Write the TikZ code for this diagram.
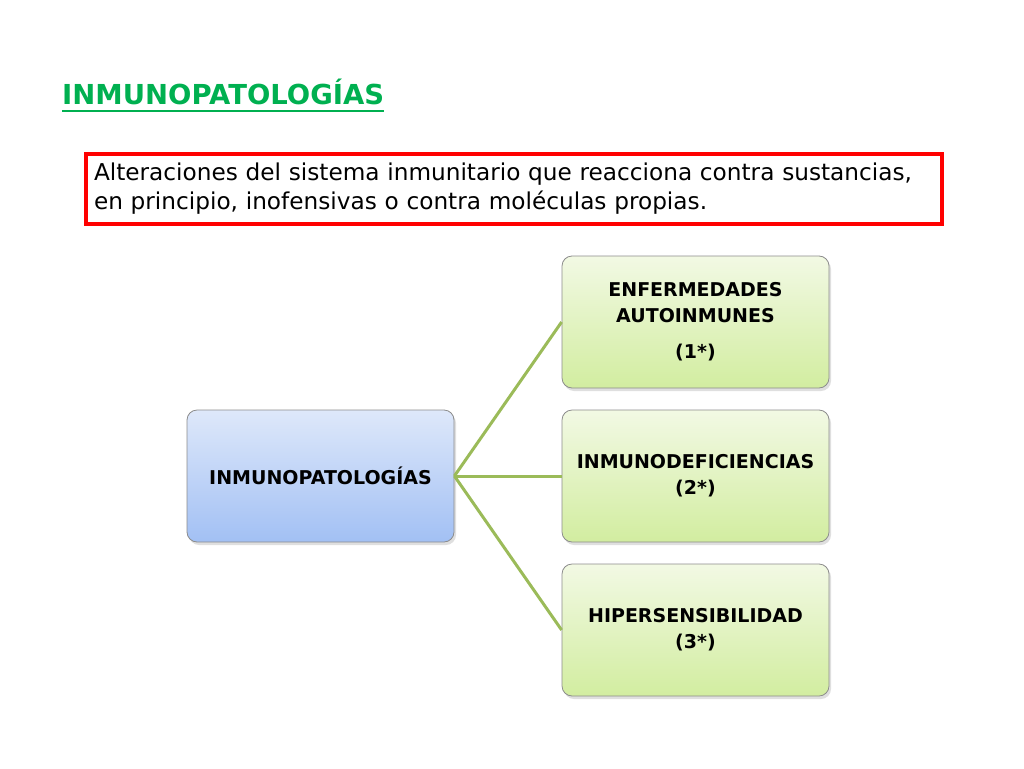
\documentclass[tikz,border=0pt]{standalone}
\usepackage{fontspec}
\setmainfont{DejaVu Sans}
\usepackage{tikz}
\usetikzlibrary{shadows}

\definecolor{titlegreen}{RGB}{0,176,80}
\definecolor{branchgreen}{RGB}{155,187,89}
\definecolor{bluetop}{RGB}{222,232,250}
\definecolor{bluebottom}{RGB}{162,192,244}
\definecolor{greentop}{RGB}{242,249,228}
\definecolor{greenbottom}{RGB}{210,237,160}

\tikzset{
  box/.style = {rounded corners = 10pt, draw = black!45, line width = 0.8pt,
                minimum width = 267pt, minimum height = 132pt,
                text width = 255pt, align = center,
                font = \fontsize{19}{26}\selectfont\bfseries,
                drop shadow = {shadow xshift = 2pt, shadow yshift = -3pt, opacity = 0.25}},
  rootbox/.style = {box, top color = bluetop, bottom color = bluebottom},
  leafbox/.style = {box, top color = greentop, bottom color = greenbottom},
}

\begin{document}
\begin{tikzpicture}[x = 1pt, y = -1pt]
  \useasboundingbox (0,0) rectangle (1024,768);

  % title
  \node [anchor = base west, inner sep = 0pt, text = titlegreen,
         font = \fontsize{27.5}{30}\selectfont\bfseries] (title) at (62,104) {INMUNOPATOLOGÍAS};
  \draw [titlegreen, line width = 2pt]
    ([yshift = -7pt]title.base west) -- ([yshift = -7pt]title.base east);

  % definition
  \node [anchor = north west, draw = red, line width = 4pt,
         minimum width = 856pt, minimum height = 70pt,
         text width = 840pt, inner sep = 7pt, align = left,
         font = \fontsize{23.2}{29}\selectfont] (defn) at (84,152)
    {Alteraciones del sistema inmunitario que reacciona contra sustancias,\\
     en principio, inofensivas o contra moléculas propias.};

  % tree
  \node [rootbox] (root) at (320.5,476) {INMUNOPATOLOGÍAS}
    [grow' = right, level distance = 375pt, sibling distance = 154pt,
     edge from parent/.style = {draw = branchgreen, line width = 3pt},
     edge from parent path = {(\tikzparentnode.east) -- (\tikzchildnode.west)}]
    child {node [leafbox] (autoinm) {ENFERMEDADES\\AUTOINMUNES\\[10pt](1*)}}
    child {node [leafbox] (inmunodef) {INMUNODEFICIENCIAS\\(2*)}}
    child {node [leafbox] (hipersens) {HIPERSENSIBILIDAD\\(3*)}};
\end{tikzpicture}
\end{document}
